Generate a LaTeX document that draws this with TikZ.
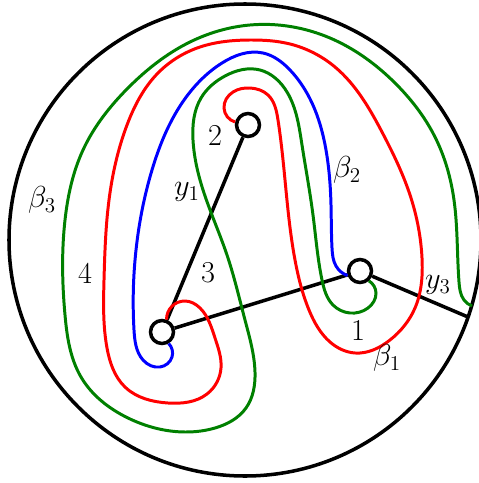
\documentclass[tikz,border=0pt]{standalone}
\usetikzlibrary{hobby}
\begin{document}
\begin{tikzpicture}[x=0.02cm, y=-0.02cm, use Hobby shortcut,
  hole/.style={circle, draw, line width=2pt, fill=white, minimum size=0.46cm, inner sep=0pt},
  curve/.style={line width=1.7pt},
  lbl/.style={font=\LARGE}]
\useasboundingbox (0,0) rectangle (478,483);
\draw[line width=2pt] (245,240) circle (236);
\node[hole] (top) at (248,125) {};
\node[hole] (left) at (162,332) {};
\node[hole] (right) at (360,271) {};
\coordinate (rim) at (468,317);
\coordinate (gend) at (472,306);
\draw[line width=2pt] (left) -- (top);
\draw[line width=2pt] (left) -- (right);
\draw[line width=2pt] (right) -- (rim);
\draw[curve, blue] (right.200) .. (336,266) .. (332,248) .. (331,205) .. (326,150) .. (312,103) .. (290,70) .. (263,53) .. (222,63) .. (182,103) .. (152,170) .. (136,250) .. (134,330) .. (143,360) .. (160,367) .. (172,357) .. (left.300);
\draw[curve, red] (top.167) .. (224,108) .. (233,92) .. (250,88) .. (268,95) .. (278,120) .. (285,180) .. (295,260) .. (309,310) .. (330,342) .. (355,353) .. (390,340) .. (415,308) .. (422,258) .. (411,198) .. (382,132) .. (335,67) .. (290,44) .. (250,40) .. (200,47) .. (158,73) .. (127,125) .. (109,200) .. (104,280) .. (107,348) .. (125,387) .. (168,403) .. (207,394) .. (221,368) .. (215,338) .. (200,308) .. (185,301) .. (left.70);
\draw[curve, green!50!black] (right.312) .. (376,293) .. (368,308) .. (350,313) .. (333,305) .. (322,280) .. (313,215) .. (302,145) .. (287,92) .. (260,70) .. (225,76) .. (201,98) .. (193,140) .. (204,193) .. (227,255) .. (245,320) .. (255,372) .. (246,408) .. (215,428) .. (185,432) .. (128,418) .. (81,377) .. (65,315) .. (65,220) .. (83,150) .. (128,88) .. (190,42) .. (250,25) .. (330,38) .. (395,83) .. (435,137) .. (454,200) .. (459,282) .. (464,300) .. (gend);
\node[lbl] (n2) at (215,135) {2};
\node[lbl] (y1) at (187,192) {$y_1$};
\node[lbl] (n3) at (208,273) {3};
\node[lbl] (n4) at (85,273) {4};
\node[lbl] (b3) at (42,200) {$\beta_3$};
\node[lbl] (b2) at (347,170) {$\beta_2$};
\node[lbl] (y3) at (438,285) {$y_3$};
\node[lbl] (n1) at (358,330) {1};
\node[lbl] (b1) at (387,358) {$\beta_1$};
\end{tikzpicture}
\end{document}
